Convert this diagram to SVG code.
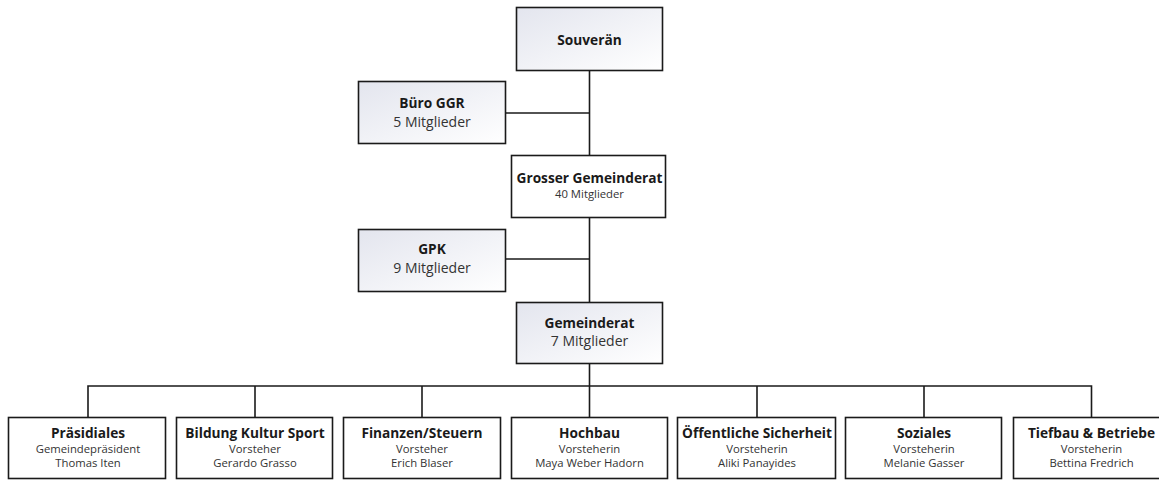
<svg xmlns="http://www.w3.org/2000/svg" width="1159" height="480" viewBox="0 0 1159 480">
<defs>
<linearGradient id="g" x1="0" y1="0" x2="1" y2="1">
<stop offset="0" stop-color="#e3e5ee"/>
<stop offset="1" stop-color="#ffffff"/>
</linearGradient>
<style>
.box{stroke:#1a1a1a;stroke-width:1.6;}
.gr{fill:url(#g);}
.wh{fill:#ffffff;}
text{font-family:"Open Sans","Noto Sans","Liberation Sans",sans-serif;fill:#1a1a1a;text-anchor:middle;}
.t{font-weight:bold;font-size:13.7px;}
.s{font-size:14px;fill:#333;}
.ss{font-size:11.3px;fill:#333;}
.ln{stroke:#1a1a1a;stroke-width:1.6;fill:none;}
</style>
</defs>
<rect width="1159" height="480" fill="#ffffff"/>
<g id="connectors">
<path class="ln" d="M589.5 71 V302"/>
<path class="ln" d="M506 113 H589.5"/>
<path class="ln" d="M506 259 H589.5"/>
<path class="ln" d="M589.5 364 V417"/>
<path class="ln" d="M88 417 V386 H1091.5 V417"/>
<path class="ln" d="M255 386 V417"/>
<path class="ln" d="M422 386 V417"/>
<path class="ln" d="M757 386 V417"/>
<path class="ln" d="M924 386 V417"/>
</g>
<g id="souveraen">
<rect class="box gr" x="516.5" y="7.5" width="146" height="63"/>
<text class="t" x="589.5" y="45">Souverän</text>
</g>
<g id="buero-ggr">
<rect class="box gr" x="358.5" y="81.5" width="147" height="62"/>
<text class="t" x="432" y="108">Büro GGR</text>
<text class="s" x="432" y="127">5 Mitglieder</text>
</g>
<g id="grosser-gemeinderat">
<rect class="box wh" x="511.5" y="155.5" width="154" height="62"/>
<text class="t" x="589.5" y="183">Grosser Gemeinderat</text>
<text class="ss" x="589.5" y="198">40 Mitglieder</text>
</g>
<g id="gpk">
<rect class="box gr" x="358.5" y="229.5" width="147" height="62"/>
<text class="t" x="432" y="254">GPK</text>
<text class="s" x="432" y="273">9 Mitglieder</text>
</g>
<g id="gemeinderat">
<rect class="box gr" x="516.5" y="302.5" width="146" height="61"/>
<text class="t" x="589.5" y="328">Gemeinderat</text>
<text class="s" x="589.5" y="346">7 Mitglieder</text>
</g>
<g id="praesidiales">
<rect class="box wh" x="8.5" y="417.5" width="157" height="61"/>
<text class="t" x="88" y="438">Präsidiales</text>
<text class="ss" x="88" y="453">Gemeindepräsident</text>
<text class="ss" x="88" y="467">Thomas Iten</text>
</g>
<g id="bildung">
<rect class="box wh" x="176.5" y="417.5" width="156" height="61"/>
<text class="t" x="255" y="438">Bildung Kultur Sport</text>
<text class="ss" x="255" y="453">Vorsteher</text>
<text class="ss" x="255" y="467">Gerardo Grasso</text>
</g>
<g id="finanzen">
<rect class="box wh" x="343.5" y="417.5" width="157" height="61"/>
<text class="t" x="422" y="438">Finanzen/Steuern</text>
<text class="ss" x="422" y="453">Vorsteher</text>
<text class="ss" x="422" y="467">Erich Blaser</text>
</g>
<g id="hochbau">
<rect class="box wh" x="511.5" y="417.5" width="156" height="61"/>
<text class="t" x="589.5" y="438">Hochbau</text>
<text class="ss" x="589.5" y="453">Vorsteherin</text>
<text class="ss" x="589.5" y="467">Maya Weber Hadorn</text>
</g>
<g id="oeffentliche-sicherheit">
<rect class="box wh" x="677.5" y="417.5" width="158" height="61"/>
<text class="t" x="757" y="438">Öffentliche Sicherheit</text>
<text class="ss" x="757" y="453">Vorsteherin</text>
<text class="ss" x="757" y="467">Aliki Panayides</text>
</g>
<g id="soziales">
<rect class="box wh" x="845.5" y="417.5" width="156" height="61"/>
<text class="t" x="924" y="438">Soziales</text>
<text class="ss" x="924" y="453">Vorsteherin</text>
<text class="ss" x="924" y="467">Melanie Gasser</text>
</g>
<g id="tiefbau">
<rect class="box wh" x="1013.5" y="417.5" width="157" height="61"/>
<text class="t" x="1091.5" y="438">Tiefbau &amp; Betriebe</text>
<text class="ss" x="1091.5" y="453">Vorsteherin</text>
<text class="ss" x="1091.5" y="467">Bettina Fredrich</text>
</g>
</svg>
